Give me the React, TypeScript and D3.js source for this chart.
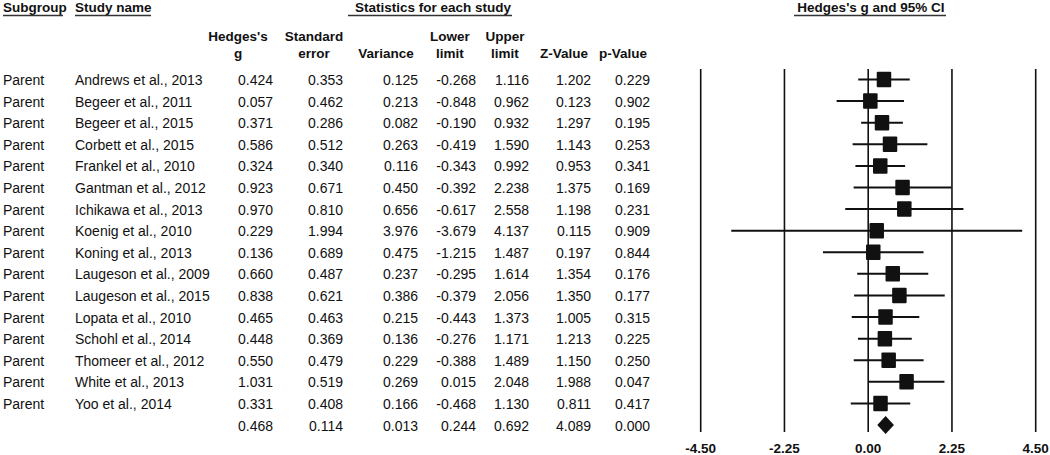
import React from "react";
import * as d3 from "d3";

const subgroups = Array(16).fill("Parent");
const studyNames = [
  "Andrews et al., 2013", "Begeer et al., 2011", "Begeer et al., 2015", "Corbett et al., 2015",
  "Frankel et al., 2010", "Gantman et al., 2012", "Ichikawa et al., 2013", "Koenig et al., 2010",
  "Koning et al., 2013", "Laugeson et al., 2009", "Laugeson et al., 2015", "Lopata et al., 2010",
  "Schohl et al., 2014", "Thomeer et al., 2012", "White et al., 2013", "Yoo et al., 2014",
];
const hedgesG = [0.424, 0.057, 0.371, 0.586, 0.324, 0.923, 0.970, 0.229, 0.136, 0.660, 0.838, 0.465, 0.448, 0.550, 1.031, 0.331];
const stdErr = [0.353, 0.462, 0.286, 0.512, 0.340, 0.671, 0.810, 1.994, 0.689, 0.487, 0.621, 0.463, 0.369, 0.479, 0.519, 0.408];
const variance = [0.125, 0.213, 0.082, 0.263, 0.116, 0.450, 0.656, 3.976, 0.475, 0.237, 0.386, 0.215, 0.136, 0.229, 0.269, 0.166];
const lowerLimit = [-0.268, -0.848, -0.190, -0.419, -0.343, -0.392, -0.617, -3.679, -1.215, -0.295, -0.379, -0.443, -0.276, -0.388, 0.015, -0.468];
const upperLimit = [1.116, 0.962, 0.932, 1.590, 0.992, 2.238, 2.558, 4.137, 1.487, 1.614, 2.056, 1.373, 1.171, 1.489, 2.048, 1.130];
const zValue = [1.202, 0.123, 1.297, 1.143, 0.953, 1.375, 1.198, 0.115, 0.197, 1.354, 1.350, 1.005, 1.213, 1.150, 1.988, 0.811];
const pValue = [0.229, 0.902, 0.195, 0.253, 0.341, 0.169, 0.231, 0.909, 0.844, 0.176, 0.177, 0.315, 0.225, 0.250, 0.047, 0.417];
const summary = [0.468, 0.114, 0.013, 0.244, 0.692, 4.089, 0.000];
const tickValues = [-4.5, -2.25, 0, 2.25, 4.5];

const columnHeaders = [
  ["Hedges's", "g"],
  ["Standard", "error"],
  ["", "Variance"],
  ["Lower", "limit"],
  ["Upper", "limit"],
  ["", "Z-Value"],
  ["", "p-Value"],
];

const W = 1050;
const H = 455;
const FONT = "'Liberation Sans', Arial, Helvetica, sans-serif";
const INK = "#111";

export default function App() {
  const nRows = studyNames.length;
  const x = d3.scaleLinear().domain([-4.5, 4.5]).range([700.7, 1035.7]);
  const y = d3.scaleLinear().domain([0, nRows]).range([79.5, 425]);
  const f3 = d3.format(".3f");
  const f2 = d3.format(".2f");
  const fmt = (v: number) => f3(v).replace("\u2212", "-");
  const tickFmt = (v: number) => f2(v).replace("\u2212", "-");

  const colRight = [273, 343, 418, 476, 529, 591, 650];
  const colHeadCenter = [238, 314, 386, 450, 505, 564, 623];

  const rows = studyNames.map((name, i) => ({
    sub: subgroups[i],
    name,
    vals: [hedgesG[i], stdErr[i], variance[i], lowerLimit[i], upperLimit[i], zValue[i], pValue[i]],
  }));

  const boxW = 14.5;
  const boxH = 15.5;
  const sy = y(nRows);
  const diamond = d3.line()([
    [x(summary[3]), sy],
    [x(summary[0]), sy - 9],
    [x(summary[4]), sy],
    [x(summary[0]), sy + 9],
  ]) + "Z";

  return (
    <svg width={W} height={H} style={{ position: "absolute", left: 0, top: 0, background: "#fff" }} fontFamily={FONT}>
      <g fontWeight="bold" fontSize={13.5} fill={INK}>
        <text x={3} y={12}>Subgroup</text>
        <text x={75} y={12}>Study name</text>
        <text x={433} y={12} textAnchor="middle">Statistics for each study</text>
        <text x={871} y={12} textAnchor="middle">Hedges's g and 95% CI</text>
      </g>
      <g stroke="#333" strokeWidth={1.3}>
        <line x1={3} x2={63} y1={15.5} y2={15.5} />
        <line x1={75} x2={151} y1={15.5} y2={15.5} />
        <line x1={348} x2={512} y1={15.5} y2={15.5} />
        <line x1={794} x2={946} y1={15.5} y2={15.5} />
      </g>
      <g fontWeight="bold" fontSize={13.5} fill={INK} textAnchor="middle">
        {columnHeaders.map((h, j) => (
          <g key={j}>
            {h[0] && <text x={colHeadCenter[j]} y={41}>{h[0]}</text>}
            <text x={colHeadCenter[j]} y={57.5}>{h[1]}</text>
          </g>
        ))}
      </g>
      <g fontSize={14} fill={INK}>
        {rows.map((r, i) => (
          <g key={i} transform={`translate(0,${y(i) + 5.5})`}>
            <text x={3}>{r.sub}</text>
            <text x={75}>{r.name}</text>
            {r.vals.map((v, j) => (
              <text key={j} x={colRight[j]} textAnchor="end">{fmt(v)}</text>
            ))}
          </g>
        ))}
        <g transform={`translate(0,${sy + 5.5})`}>
          {summary.map((v, j) => (
            <text key={j} x={colRight[j]} textAnchor="end">{fmt(v)}</text>
          ))}
        </g>
      </g>
      <g stroke={INK} strokeWidth={1.6}>
        {tickValues.map((t) => (
          <line key={t} x1={x(t)} x2={x(t)} y1={69} y2={432} />
        ))}
      </g>
      <g>
        {rows.map((r, i) => (
          <g key={i}>
            <line x1={x(lowerLimit[i])} x2={x(upperLimit[i])} y1={y(i)} y2={y(i)} stroke={INK} strokeWidth={2} />
            <rect x={x(hedgesG[i]) - boxW / 2} y={y(i) - boxH / 2} width={boxW} height={boxH} fill={INK} rx={1} />
          </g>
        ))}
        <path d={diamond} fill={INK} />
      </g>
      <g fontWeight="bold" fontSize={13.5} fill={INK} textAnchor="middle">
        {tickValues.map((t) => (
          <text key={t} x={x(t)} y={453}>{tickFmt(t)}</text>
        ))}
      </g>
    </svg>
  );
}
